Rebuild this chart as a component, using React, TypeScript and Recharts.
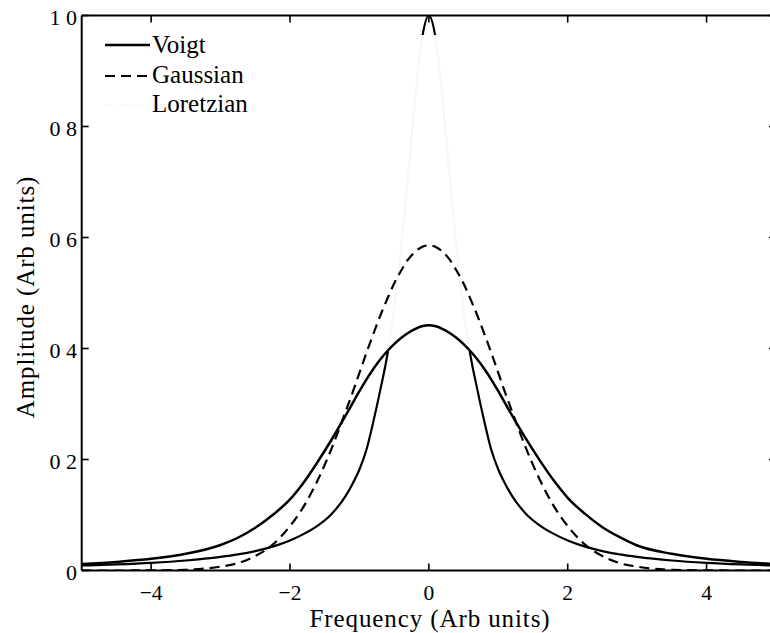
import React from "react";
import { LineChart, Line, XAxis, YAxis, ReferenceLine } from "recharts";

// ---- data ----
const frequency = [
  -5, -4.5, -4, -3.5, -3, -2.75, -2.5, -2.25, -2, -1.8, -1.6, -1.4, -1.2, -1.1, -1, -0.9, -0.8, -0.7, -0.6, -0.5, -0.4, -0.3, -0.2, -0.1,
  0,
  0.1, 0.2, 0.3, 0.4, 0.5, 0.6, 0.7, 0.8, 0.9, 1, 1.1, 1.2, 1.4, 1.6, 1.8, 2, 2.25, 2.5, 2.75, 3, 3.5, 4, 4.5, 5,
];
const voigt = [
  0.0115, 0.0155, 0.021, 0.03, 0.046, 0.059, 0.077, 0.1, 0.128, 0.159, 0.196, 0.236, 0.279, 0.301, 0.323, 0.344, 0.363, 0.38, 0.395, 0.408, 0.419, 0.428, 0.435, 0.44,
  0.442,
  0.44, 0.435, 0.428, 0.419, 0.408, 0.395, 0.38, 0.363, 0.344, 0.323, 0.301, 0.279, 0.237, 0.198, 0.162, 0.131, 0.102, 0.078, 0.06, 0.045, 0.03, 0.021, 0.0155, 0.0115,
];
const gaussian = [
  0, 0, 0.0002, 0.0013, 0.007, 0.0132, 0.026, 0.0465, 0.08, 0.116, 0.163, 0.22, 0.286, 0.32, 0.356, 0.392, 0.426, 0.459, 0.489, 0.517, 0.54, 0.56, 0.574, 0.583,
  0.586,
  0.583, 0.574, 0.56, 0.54, 0.517, 0.489, 0.459, 0.426, 0.392, 0.356, 0.32, 0.286, 0.22, 0.163, 0.116, 0.08, 0.0465, 0.026, 0.0132, 0.007, 0.0013, 0.0002, 0, 0,
];
const lorentzian = [
  0.009, 0.011, 0.0138, 0.018, 0.0245, 0.029, 0.035, 0.043, 0.054, 0.066, 0.081, 0.102, 0.134, 0.156, 0.182, 0.217, 0.268, 0.325, 0.387, 0.47, 0.58, 0.71, 0.847, 0.957,
  1.0,
  0.957, 0.847, 0.71, 0.58, 0.47, 0.387, 0.325, 0.268, 0.217, 0.182, 0.156, 0.134, 0.102, 0.081, 0.066, 0.054, 0.043, 0.035, 0.029, 0.0245, 0.018, 0.0138, 0.011, 0.009,
];
const seriesNames = ["Voigt", "Gaussian", "Loretzian"];
const xTicks = [-4, -2, 0, 2, 4];
const xTickLabels = ["\u22124", "\u22122", "0", "2", "4"];
const yTicks = [0, 0.2, 0.4, 0.6, 0.8, 1.0];
const yTickLabels = ["0", "0 2", "0 4", "0 6", "0 8", "1 0"];
const xTitle = "Frequency (Arb  units)";
const yTitle = "Amplitude (Arb  units)";

const rows = frequency.map((f, i) => ({
  f,
  voigt: voigt[i],
  gaussian: gaussian[i],
  lorentzian: lorentzian[i],
}));

// ---- layout / style ----
const FONT = '"Liberation Serif", "Times New Roman", serif';
const CHART_W = 800;
const CHART_H = 633;
const LEFT = 81.7;
const TOP = 15.5;
const BOTTOM = 570.5;
const RIGHT = 776;
const TICK = 7;
const FADED = "#f6f6f6";

const XTick = (props: any) => {
  const { x, payload } = props;
  const idx = xTicks.indexOf(payload.value);
  return (
    <g>
      <line x1={x} x2={x} y1={BOTTOM} y2={BOTTOM - TICK} stroke="#000" strokeWidth={1.6} />
      <line x1={x} x2={x} y1={TOP} y2={TOP + TICK} stroke="#000" strokeWidth={1.6} />
      <text x={x} y={599.5} textAnchor="middle" fontFamily={FONT} fontSize={21.5} fill="#000">
        {idx >= 0 ? xTickLabels[idx] : ""}
      </text>
    </g>
  );
};

const YTick = (props: any) => {
  const { y, payload } = props;
  const idx = yTicks.findIndex((t) => Math.abs(t - payload.value) < 1e-9);
  return (
    <g>
      <line x1={LEFT} x2={LEFT + TICK} y1={y} y2={y} stroke="#000" strokeWidth={1.6} />
      <line x1={RIGHT - TICK} x2={RIGHT} y1={y} y2={y} stroke="#000" strokeWidth={1.6} />
      <text x={77} y={y + 9} textAnchor="end" fontFamily={FONT} fontSize={22} fill="#000">
        {idx >= 0 ? yTickLabels[idx] : ""}
      </text>
    </g>
  );
};

export default function App() {
  return (
    <div
      style={{
        position: "absolute",
        left: 0,
        top: 0,
        width: 770,
        height: 633,
        overflow: "hidden",
        background: "#fff",
      }}
    >
      <LineChart
        width={CHART_W}
        height={CHART_H}
        data={rows}
        margin={{ top: TOP, right: CHART_W - RIGHT, bottom: 0, left: 0 }}
      >
        <defs>
          <linearGradient id="lorentzGrad" gradientUnits="userSpaceOnUse" x1={0} y1={TOP} x2={0} y2={BOTTOM}>
            <stop offset="0" stopColor="#000" />
            <stop offset="0.035" stopColor="#000" />
            <stop offset="0.035" stopColor={FADED} />
            <stop offset="0.605" stopColor={FADED} />
            <stop offset="0.605" stopColor="#000" />
            <stop offset="1" stopColor="#000" />
          </linearGradient>
        </defs>
        <XAxis
          dataKey="f"
          type="number"
          domain={[-5, 5]}
          ticks={xTicks}
          allowDataOverflow
          height={CHART_H - BOTTOM}
          axisLine={{ stroke: "#000", strokeWidth: 2 }}
          tickLine={false}
          tick={<XTick />}
          interval={0}
        />
        <YAxis
          type="number"
          domain={[0, 1]}
          ticks={yTicks}
          allowDataOverflow
          width={LEFT}
          axisLine={{ stroke: "#000", strokeWidth: 2 }}
          tickLine={false}
          tick={<YTick />}
          interval={0}
        />
        <ReferenceLine y={1} stroke="#000" strokeWidth={2} ifOverflow="visible" />
        <ReferenceLine x={5} stroke="#000" strokeWidth={2} ifOverflow="visible" />
        <Line
          type="monotone"
          dataKey="lorentzian"
          name={seriesNames[2]}
          stroke="url(#lorentzGrad)"
          strokeWidth={2.2}
          dot={false}
          isAnimationActive={false}
        />
        <Line
          type="monotone"
          dataKey="gaussian"
          name={seriesNames[1]}
          stroke="#000"
          strokeWidth={2.2}
          strokeDasharray="10 6"
          dot={false}
          isAnimationActive={false}
        />
        <Line
          type="monotone"
          dataKey="voigt"
          name={seriesNames[0]}
          stroke="#000"
          strokeWidth={2.5}
          dot={false}
          isAnimationActive={false}
        />
      </LineChart>
      <svg
        width={770}
        height={633}
        style={{ position: "absolute", left: 0, top: 0, pointerEvents: "none" }}
      >
        {/* legend */}
        <line x1={105} x2={150} y1={45} y2={45} stroke="#000" strokeWidth={2.5} />
        <text x={152} y={53} fontFamily={FONT} fontSize={25} fill="#000">
          {seriesNames[0]}
        </text>
        <line x1={105} x2={151} y1={76} y2={76} stroke="#000" strokeWidth={2.2} strokeDasharray="10 6" />
        <text x={152} y={83} fontFamily={FONT} fontSize={25} fill="#000">
          {seriesNames[1]}
        </text>
        <line x1={105} x2={150} y1={105} y2={105} stroke={FADED} strokeWidth={2} strokeDasharray="2 3" />
        <text x={152} y={112} fontFamily={FONT} fontSize={25} fill="#000">
          {seriesNames[2]}
        </text>
        {/* axis titles */}
        <text
          x={430}
          y={626.5}
          textAnchor="middle"
          fontFamily={FONT}
          fontSize={25}
          letterSpacing={0.9}
          fill="#000"
        >
          {xTitle}
        </text>
        <text
          x={25}
          y={297}
          textAnchor="middle"
          dominantBaseline="central"
          transform="rotate(-90 25 297)"
          fontFamily={FONT}
          fontSize={25}
          letterSpacing={0.9}
          fill="#000"
        >
          {yTitle}
        </text>
      </svg>
    </div>
  );
}
